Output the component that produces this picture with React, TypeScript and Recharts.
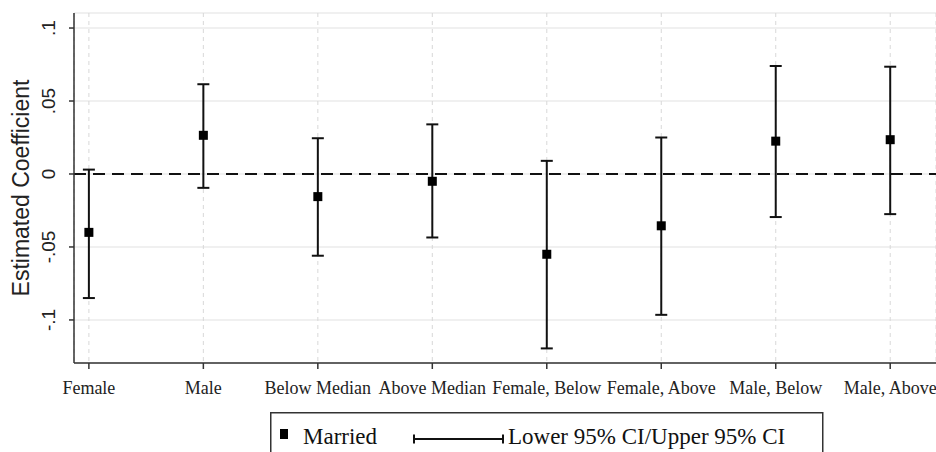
import React from "react"
import {
  ComposedChart,
  Scatter,
  ErrorBar,
  XAxis,
  YAxis,
  CartesianGrid,
  ReferenceLine,
} from "recharts"

const groups = [
  "Female",
  "Male",
  "Below Median",
  "Above Median",
  "Female, Below",
  "Female, Above",
  "Male, Below",
  "Male, Above",
]
const coef = [-0.04, 0.0265, -0.0155, -0.005, -0.055, -0.0355, 0.0225, 0.0235]
const lower = [-0.085, -0.0095, -0.056, -0.0435, -0.1195, -0.0965, -0.0295, -0.0275]
const upper = [0.003, 0.0615, 0.0245, 0.034, 0.009, 0.025, 0.074, 0.0735]
const yTicks = [-0.1, -0.05, 0, 0.05, 0.1]
const yTickLabels = ["-.1", "-.05", "0", ".05", ".1"]

const data = groups.map((g, i) => ({
  x: i + 1,
  name: g,
  coef: coef[i],
  err: [coef[i] - lower[i], upper[i] - coef[i]],
}))

const SANS = "'Liberation Sans', Arial, sans-serif"
const SERIF = "'Liberation Serif', 'Times New Roman', serif"

function YTick(props: any) {
  const { y, payload } = props
  const i = yTicks.indexOf(payload.value)
  return (
    <text
      x={49}
      y={y}
      transform={`rotate(-90, 49, ${y})`}
      textAnchor="middle"
      dominantBaseline="central"
      fontFamily={SANS}
      fontSize={19}
      fill="#222"
    >
      {i >= 0 ? yTickLabels[i] : payload.value}
    </text>
  )
}

function XTick(props: any) {
  const { x, payload } = props
  return (
    <text x={x} y={394} textAnchor="middle" fontFamily={SERIF} fontSize={18} fill="#222">
      {groups[payload.value - 1]}
    </text>
  )
}

function Square(props: any) {
  const { cx, cy } = props
  return <rect x={cx - 4.5} y={cy - 4.5} width={9} height={9} fill="#000" />
}

// legend drawn as its own svg under the plot, like the Stata key box
function Key() {
  return (
    <svg style={{ position: "absolute", left: 270, top: 412 }} width={555} height={40}>
      <rect x={0.75} y={0.75} width={552} height={60} fill="none" stroke="#333" strokeWidth={1.5} />
      <rect x={10} y={17} width={8} height={10} fill="#000" />
      <text x={33} y={32} fontFamily={SERIF} fontSize={23} fill="#111">Married</text>
      <line x1={144} y1={27} x2={233} y2={27} stroke="#111" strokeWidth={2} />
      <line x1={144} y1={22.5} x2={144} y2={31.5} stroke="#111" strokeWidth={2} />
      <line x1={233} y1={22.5} x2={233} y2={31.5} stroke="#111" strokeWidth={2} />
      <text x={238} y={32} fontFamily={SERIF} fontSize={23} fill="#111">Lower 95% CI/Upper 95% CI</text>
    </svg>
  )
}

export default function App() {
  return (
    <div style={{ position: "absolute", left: 0, top: 0, width: 936, height: 452, background: "#fff" }}>
      <ComposedChart
        width={936}
        height={452}
        data={data}
        margin={{ top: 13, right: 0, left: 0, bottom: 0 }}
      >
        <CartesianGrid vertical={false} stroke="#ebebeb" strokeWidth={1.5} />
        <CartesianGrid horizontal={false} stroke="#d8d8d8" strokeDasharray="4 4" />
        <XAxis
          type="number"
          dataKey="x"
          domain={[0.87, 8.4]}
          ticks={[1, 2, 3, 4, 5, 6, 7, 8]}
          height={89}
          stroke="#333"
          strokeWidth={1.5}
          tickSize={6}
          tick={<XTick />}
          allowDataOverflow
        />
        <YAxis
          type="number"
          domain={[-0.1295, 0.1103]}
          ticks={yTicks}
          width={74}
          stroke="#333"
          strokeWidth={1.5}
          tickSize={5}
          tick={<YTick />}
          allowDataOverflow
          label={(p: any) => {
            const vb = p.viewBox
            const cy = vb.y + vb.height / 2
            return (
              <text
                x={21}
                y={cy}
                transform={`rotate(-90, 21, ${cy})`}
                textAnchor="middle"
                dominantBaseline="central"
                fontFamily={SANS}
                fontSize={23}
                fill="#222"
              >
                Estimated Coefficient
              </text>
            )
          }}
        />
        <ReferenceLine y={0} stroke="#111" strokeWidth={2} strokeDasharray="12 7" />
        <Scatter dataKey="coef" shape={<Square />} isAnimationActive={false}>
          <ErrorBar dataKey="err" direction="y" width={6} stroke="#111" strokeWidth={2} isAnimationActive={false} />
        </Scatter>
      </ComposedChart>
      <Key />
    </div>
  )
}
